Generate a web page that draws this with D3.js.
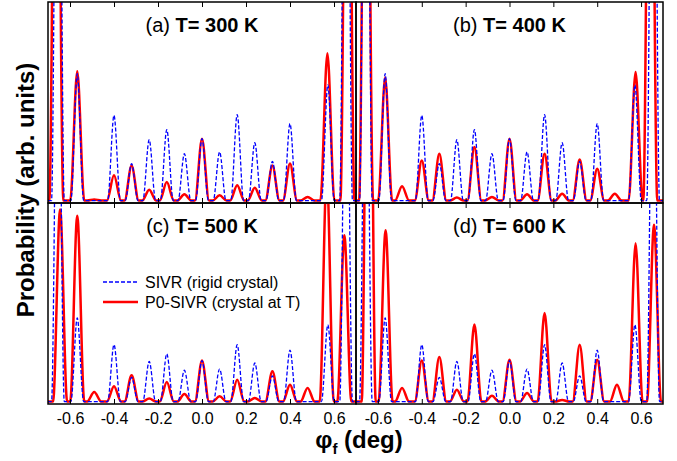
<!DOCTYPE html>
<html>
<head>
<meta charset="utf-8">
<script src="https://cdn.jsdelivr.net/npm/d3@7"></script>
<style>
  body { margin: 0; background: #fff; }
  text { font-family: "Liberation Sans", Arial, sans-serif; }
</style>
</head>
<body>
<div id="chart"></div>
<script>
// peak centres (deg) and peak heights (arb. units, 1 = panel height)
const sivrPhi = [-0.655, -0.567, -0.40, -0.32, -0.24, -0.16, -0.08, 0.0, 0.08, 0.16, 0.24, 0.32, 0.40, 0.572, 0.655];
const sivrAB  = [3.2, 0.643, 0.436, 0.196, 0.315, 0.365, 0.245, 0.32, 0.254, 0.44, 0.30, 0.207, 0.395, 0.587, 3.2];
const sivrCD  = [2.2, 0.428, 0.295, 0.132, 0.212, 0.249, 0.168, 0.216, 0.174, 0.295, 0.204, 0.14, 0.268, 0.394, 2.2];

const p0PhiA = [-0.662, -0.567, -0.49, -0.40, -0.32, -0.24, -0.16, -0.08, 0.0, 0.08, 0.16, 0.24, 0.32, 0.40, 0.48, 0.57, 0.661];
const p0A    = [3.0, 0.655, 0.017, 0.138, 0.187, 0.066, 0.104, 0.043, 0.32, 0.038, 0.088, 0.076, 0.187, 0.196, 0.03, 0.745, 3.0];
const p0PhiB = [-0.654, -0.567, -0.49, -0.40, -0.32, -0.24, -0.16, -0.08, 0.0, 0.08, 0.16, 0.24, 0.32, 0.40, 0.48, 0.575, 0.642];
const p0B    = [3.0, 0.624, 0.083, 0.212, 0.245, 0.027, 0.279, 0.03, 0.32, 0.043, 0.245, 0.046, 0.216, 0.171, 0.046, 0.652, 3.0];
const p0PhiC = [-0.645, -0.567, -0.49, -0.40, -0.32, -0.24, -0.16, -0.08, 0.0, 0.08, 0.16, 0.24, 0.32, 0.40, 0.48, 0.567, 0.647];
const p0C    = [0.968, 0.937, 0.06, 0.088, 0.143, 0.027, 0.109, 0.05, 0.217, 0.038, 0.121, 0.03, 0.163, 0.096, 0.08, 1.15, 0.84];
const p0PhiD = [-0.642, -0.565, -0.49, -0.40, -0.32, -0.24, -0.16, -0.08, 0.0, 0.08, 0.16, 0.24, 0.32, 0.40, 0.49, 0.575, 0.659];
const p0D    = [3.0, 0.864, 0.08, 0.217, 0.234, 0.071, 0.395, 0.041, 0.22, 0.055, 0.453, 0.02, 0.295, 0.22, 0.096, 0.80, 0.892];

const floorLevel = 0.012;   // level of the curves between peaks
const panelTags = ["(a)", "(b)", "(c)", "(d)"];
const panelTemps = ["T= 300 K", "T= 400 K", "T= 500 K", "T= 600 K"];
const phiTicks = [-0.6, -0.4, -0.2, 0.0, 0.2, 0.4, 0.6];
const legendLabels = ["SIVR (rigid crystal)", "P0-SIVR (crystal at T)"];

const w = 677, h = 461;
const colX = [[48, 356], [356, 663]];
const rowY = [[2, 203], [203, 404]];

const svg = d3.select("#chart")
  .append("svg")
  .attr("width", w)
  .attr("height", h);

const panels = [
  {col: 0, row: 0, sivr: sivrAB, p0Phi: p0PhiA, p0: p0A},
  {col: 1, row: 0, sivr: sivrAB, p0Phi: p0PhiB, p0: p0B},
  {col: 0, row: 1, sivr: sivrCD, p0Phi: p0PhiC, p0: p0C},
  {col: 1, row: 1, sivr: sivrCD, p0Phi: p0PhiD, p0: p0D}
];

// each peak: base - apex - base, smoothed by d3's monotone curve
function peakPoints(phis, vals, halfWidth) {
  let pts = [[-0.7, floorLevel]];
  phis.forEach(function(p, i) {
    pts.push([p - halfWidth, floorLevel], [p, vals[i]], [p + halfWidth, floorLevel]);
  });
  pts.push([0.7, floorLevel]);
  return pts;
}

panels.forEach(function(pn, k) {
  const x = d3.scaleLinear().domain([-0.7, 0.7]).range(colX[pn.col]);
  const y = d3.scaleLinear().domain([0, 1]).range([rowY[pn.row][1], rowY[pn.row][0]]);
  const g = svg.append("g");

  svg.append("clipPath").attr("id", "clip" + k)
    .append("rect")
    .attr("x", colX[pn.col][0]).attr("y", rowY[pn.row][0])
    .attr("width", colX[pn.col][1] - colX[pn.col][0])
    .attr("height", rowY[pn.row][1] - rowY[pn.row][0]);

  const line = d3.line()
    .x(function(d) { return x(d[0]); })
    .y(function(d) { return y(d[1]); })
    .curve(d3.curveMonotoneX);

  const plot = g.append("g").attr("clip-path", "url(#clip" + k + ")");

  plot.append("path")
    .datum(peakPoints(pn.p0Phi, pn.p0, 0.032))
    .attr("fill", "none")
    .attr("stroke", "#ff0000")
    .attr("stroke-width", 2.5)
    .attr("d", line);

  plot.append("path")
    .datum(peakPoints(sivrPhi, pn.sivr, 0.029))
    .attr("fill", "none")
    .attr("stroke", "#0000ff")
    .attr("stroke-width", 1.3)
    .attr("stroke-dasharray", "4,2")
    .attr("d", line);

  // inward ticks top and bottom
  g.append("g")
    .attr("transform", "translate(0," + rowY[pn.row][1] + ")")
    .call(d3.axisTop(x).tickValues(phiTicks).tickSize(5).tickFormat(""))
    .call(function(a) { a.select(".domain").remove(); });
  g.append("g")
    .attr("transform", "translate(0," + rowY[pn.row][0] + ")")
    .call(d3.axisBottom(x).tickValues(phiTicks).tickSize(5).tickFormat(""))
    .call(function(a) { a.select(".domain").remove(); });

  if (pn.row == 1) {
    const ax = g.append("g")
      .attr("transform", "translate(0," + rowY[pn.row][1] + ")")
      .call(d3.axisBottom(x).tickValues(phiTicks).tickSize(0).tickPadding(9)
        .tickFormat(d3.format(".1f")));
    ax.select(".domain").remove();
    ax.selectAll("text")
      .attr("font-size", 16)
      .attr("font-family", "Liberation Sans, Arial, sans-serif")
      .attr("fill", "#000")
      .text(function(d) { return d3.format(".1f")(d).replace("−", "-"); });
  }

  g.append("rect")
    .attr("x", colX[pn.col][0]).attr("y", rowY[pn.row][0])
    .attr("width", colX[pn.col][1] - colX[pn.col][0])
    .attr("height", rowY[pn.row][1] - rowY[pn.row][0])
    .attr("fill", "none")
    .attr("stroke", "#000")
    .attr("stroke-width", 1.5);

  const title = g.append("text")
    .attr("x", x(0))
    .attr("y", rowY[pn.row][0] + 30)
    .attr("text-anchor", "middle")
    .attr("font-size", 20);
  title.append("tspan").text(panelTags[k] + " ");
  title.append("tspan").attr("font-weight", "bold").text(panelTemps[k]);

  if (k == 2) {
    const leg = g.append("g");
    [["#0000ff", 1.3, "4,2"], ["#ff0000", 2.5, null]].forEach(function(st, i) {
      const ly = 282 + i * 20;
      leg.append("line")
        .attr("x1", 103).attr("x2", 138)
        .attr("y1", ly).attr("y2", ly)
        .attr("stroke", st[0])
        .attr("stroke-width", st[1])
        .attr("stroke-dasharray", st[2]);
      leg.append("text")
        .attr("x", 145).attr("y", ly + 6)
        .attr("font-size", 16)
        .text(legendLabels[i]);
    });
  }
});

svg.append("text")
  .attr("transform", "translate(34,190) rotate(-90)")
  .attr("text-anchor", "middle")
  .attr("font-size", 24)
  .attr("font-weight", "bold")
  .text("Probability (arb. units)");

const xt = svg.append("text")
  .attr("x", 359).attr("y", 448)
  .attr("text-anchor", "middle")
  .attr("font-size", 24)
  .attr("font-weight", "bold");
xt.append("tspan").text("φ");
xt.append("tspan").attr("font-size", 15).attr("dy", 6).text("f");
xt.append("tspan").attr("dy", -6).text(" (deg)");
</script>
</body>
</html>
